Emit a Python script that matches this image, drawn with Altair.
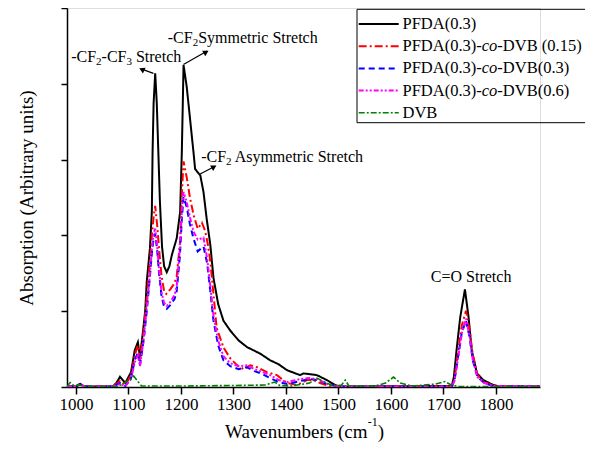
import altair as alt
import pandas as pd

# ---------------- data (wavenumber cm-1, absorption in arbitrary units) ----------------
wn_pfda = [983, 1000, 1008, 1016, 1070, 1077, 1084, 1094, 1105, 1112, 1118, 1122, 1128.6, 1132, 1135, 1141,
           1144.6, 1146, 1148, 1151, 1154, 1157, 1160, 1164, 1168, 1173, 1178, 1183, 1192, 1198.5, 1201.7,
           1203.6, 1205, 1211, 1217.5, 1224, 1227, 1237, 1243, 1249, 1256, 1262, 1271, 1281, 1294, 1310,
           1326, 1351, 1370, 1386, 1402, 1427, 1433, 1445, 1459, 1478, 1494, 1503, 1716, 1720, 1725, 1732,
           1741, 1748, 1754, 1764, 1776, 1795, 1808, 1884]
ab_pfda = [0.5, 0.5, 3, 0.5, 0.5, 4, 10.3, 4, 15, 37, 45.3, 30.3, 60.3, 77, 107, 140.3,
           177, 237, 287, 317, 287, 237, 187, 142, 122, 116, 122, 134, 150.3, 177, 237,
           287, 325.3, 303.7, 270.3, 237, 220.3, 213.7, 197, 170.3, 143.7, 110.3, 83.7, 67, 57, 47,
           40.3, 33.7, 27, 23, 17, 12, 13.7, 13, 12, 7, 2, 0.5, 1, 10.3, 37, 70.3,
           98.7, 70.3, 37, 13.7, 7, 2, 0.5, 0.5]

wn_dvb015 = [983, 1000, 1008, 1016, 1070, 1084, 1094, 1105, 1112, 1118, 1122, 1129, 1135, 1141, 1144.6, 1148,
             1151, 1155, 1158, 1163, 1168, 1172, 1180, 1188, 1192, 1198.5, 1202, 1205, 1211, 1217, 1224,
             1232, 1240, 1246, 1251, 1256, 1262, 1268, 1281, 1294, 1307, 1320, 1332, 1345, 1364, 1383,
             1402, 1421, 1440, 1452, 1465, 1484, 1716, 1721, 1727, 1735, 1743, 1750, 1756, 1765, 1778,
             1795, 1808, 1884]
ab_dvb015 = [0.5, 1, 3, 0.5, 0.5, 6, 2, 12, 32, 42, 27, 57, 90.3, 127, 152, 172,
             183, 162, 142, 112, 97, 94, 99, 105, 112, 147, 197, 228, 212, 192, 174,
             160, 166, 158, 145, 127, 94, 60, 40, 29, 22, 18, 22, 20, 15, 12,
             4, 2, 7, 7, 4, 0.5, 0.5, 7, 32, 62, 77, 57, 32, 12, 5,
             1.5, 0.5, 0.5]

wn_dvb03 = [983, 1000, 1008, 1016, 1070, 1084, 1094, 1105, 1112, 1118, 1122, 1129, 1135, 1141, 1145, 1148,
            1151, 1155, 1158, 1163, 1168, 1173, 1180, 1188, 1192, 1198, 1202, 1205, 1211, 1217, 1224,
            1232, 1238, 1243, 1250, 1256, 1262, 1271, 1281, 1294, 1310, 1325, 1340, 1351, 1370, 1386,
            1402, 1427, 1445, 1460, 1478, 1500, 1716, 1721, 1727, 1735, 1743, 1750, 1756, 1765, 1778,
            1795, 1884]
ab_dvb03 = [0.5, 0.5, 3, 0.5, 0.5, 4, 1, 9, 27, 35, 22, 47, 77, 112, 137, 150,
            155, 137, 117, 92, 81, 79, 83, 89, 97, 132, 172, 192, 182, 165, 150,
            137, 140, 142, 125, 97, 67, 42, 27, 21, 18, 20, 16, 14, 9, 5,
            3, 6, 8, 7, 3, 0.5, 0.5, 6, 27, 55, 67, 50, 27, 10, 4,
            1, 0.5]

wn_dvb06 = [983, 1000, 1008, 1016, 1070, 1084, 1094, 1105, 1112, 1118, 1122, 1129, 1135, 1141, 1145, 1148,
            1151, 1155, 1158, 1163, 1168, 1173, 1180, 1188, 1192, 1198, 1202, 1205, 1211, 1217, 1224,
            1232, 1238, 1243, 1250, 1256, 1262, 1271, 1281, 1294, 1310, 1325, 1340, 1351, 1370, 1386,
            1402, 1427, 1445, 1460, 1478, 1500, 1716, 1721, 1727, 1735, 1743, 1750, 1756, 1765, 1778,
            1795, 1884]
ab_dvb06 = [0.5, 0.5, 2.5, 0.5, 0.5, 3, 1, 8, 25, 32, 21, 48, 80, 115, 141, 155,
            160, 141, 121, 96, 85, 82, 86, 93, 102, 140, 180, 197, 187, 172, 157,
            149, 150, 151, 130, 102, 72, 47, 31, 24, 21, 22, 18, 16, 12, 7,
            5, 8, 9, 8, 3, 0.5, 0.5, 6, 26, 54, 69, 51, 27, 10, 4,
            1, 0.5]

wn_dvb = [983, 989, 996, 1008, 1020, 1080, 1095, 1105, 1110, 1116, 1125, 1200, 1300, 1360, 1379, 1388,
          1410, 1445, 1459, 1470, 1490, 1506, 1513, 1520, 1570, 1590, 1605, 1618, 1640, 1685, 1703,
          1715, 1730, 1884]
ab_dvb = [0.5, 4.5, 1.5, 2, 0.5, 0.5, 5, 8, 11, 7, 1, 1, 1.5, 2, 5, 1.5,
          1, 4, 9, 6, 1, 2, 7, 1, 1, 4, 10, 4, 1, 3, 5.5,
          2, 0.5, 0.5]

x_ticks = [1000, 1100, 1200, 1300, 1400, 1500, 1600, 1700, 1800]
y_ticks = [0, 76.6, 153.2, 229.8, 306.4, 383]

series = [
    ("PFDA(0.3)", wn_pfda, ab_pfda, "#000000", [1, 0], 2.0),
    ("PFDA(0.3)-co-DVB (0.15)", wn_dvb015, ab_dvb015, "#ff0000", [8, 3, 2, 3], 2.0),
    ("PFDA(0.3)-co-DVB(0.3)", wn_dvb03, ab_dvb03, "#0000ff", [6, 4], 2.0),
    ("PFDA(0.3)-co-DVB(0.6)", wn_dvb06, ab_dvb06, "#ff00ff", [5, 2, 2, 2, 2, 2], 2.0),
    ("DVB", wn_dvb, ab_dvb, "#008000", [6, 2, 2, 2], 1.6),
]
legend_parts = [
    ["PFDA(0.3)"],
    ["PFDA(0.3)-", "co", "-DVB (0.15)"],
    ["PFDA(0.3)-", "co", "-DVB(0.3)"],
    ["PFDA(0.3)-", "co", "-DVB(0.6)"],
    ["DVB"],
]

# annotations: anchor (wavenumber, absorption) and text pieces (text, dx, dy, size)
annotations = [
    (990.9, 333.7, [("-CF", 0, 0, 16), ("2", 24.9, 5, 11), ("-CF", 30.4, 0, 16), ("3", 55.3, 5, 11), ("Stretch", 64.8, 0, 16)]),
    (1175.0, 352.7, [("-CF", 0, 0, 16), ("2", 24.9, 5, 11), ("Symmetric Stretch", 30.4, 0, 16)]),
    (1238.5, 232.7, [("-CF", 0, 0, 16), ("2", 24.9, 5, 11), ("Asymmetric Stretch", 33.5, 0, 16)]),
]
arrows = [  # (x_from, y_from, x_tip, y_tip, head_x, head_y, angle)
    (1147.6, 317, 1124, 321.5, 1127, 320.5, 295),
    (1204.8, 326, 1250, 339.5, 1246.5, 338, 61),
    (1236.6, 215.3, 1265, 223, 1261.5, 222, 61),
]

FONT = "Liberation Serif"
W, H = 473, 379
xscale = alt.Scale(domain=[983, 1884], nice=False, zero=False)
yscale = alt.Scale(domain=[0, 383], nice=False, zero=False)
xaxis = alt.Axis(values=x_ticks, format="d", title=None, tickSize=7, labelFontSize=17, labelFont=FONT,
                 labelColor="black", labelPadding=2, grid=False, domainColor="black",
                 tickColor="black", domainWidth=1.5, tickWidth=1.5, labelFlush=False)
yaxis = alt.Axis(values=y_ticks, title="Absorption (Arbitrary units)", labels=False, tickSize=6,
                 titleFont=FONT, titleFontSize=19, titleFontWeight="normal", titleColor="black",
                 titlePadding=24, grid=False, domainColor="black", tickColor="black",
                 domainWidth=1.5, tickWidth=1.5)

X = lambda f: alt.X(f, type="quantitative", scale=xscale, axis=xaxis)
Y = lambda f: alt.Y(f, type="quantitative", scale=yscale, axis=yaxis)

layers = []
for name, wn, ab, col, dash, sw in series:
    df = pd.DataFrame({"wn": wn, "ab": ab, "series": name})
    layers.append(alt.Chart(df).mark_line(color=col, strokeDash=dash, strokeWidth=sw, clip=True)
                  .encode(x=X("wn"), y=Y("ab")))

# arrows
for x0, y0, x1, y1, hx, hy, ang in arrows:
    d = pd.DataFrame({"wn": [x0], "ab": [y0], "wn2": [x1], "ab2": [y1]})
    layers.append(alt.Chart(d).mark_rule(color="black", strokeWidth=1.2)
                  .encode(x=X("wn"), y=Y("ab"), x2="wn2", y2="ab2"))
    h = pd.DataFrame({"wn": [hx], "ab": [hy]})
    layers.append(alt.Chart(h).mark_point(shape="triangle", filled=True, color="black", size=40,
                                          angle=ang, opacity=1)
                  .encode(x=X("wn"), y=Y("ab")))

# annotation texts
for ax_, ay_, pieces in annotations:
    for txt, dx, dy, sz in pieces:
        d = pd.DataFrame({"wn": [ax_], "ab": [ay_], "t": [txt]})
        layers.append(alt.Chart(d).mark_text(align="left", baseline="middle", dx=dx, dy=dy,
                                             font=FONT, fontSize=sz, color="black")
                      .encode(x=X("wn"), y=Y("ab"), text="t:N"))
d = pd.DataFrame({"wn": [1752.8], "ab": [111], "t": ["C=O Stretch"]})
layers.append(alt.Chart(d).mark_text(align="center", baseline="middle", font=FONT, fontSize=16,
                                     color="black").encode(x=X("wn"), y=Y("ab"), text="t:N"))

# legend (manual)
one = pd.DataFrame({"k": [0]})
lx0, ltop, lbot = 290, 1.3, 114.7
layers.append(alt.Chart(one).mark_rule(color="black", strokeWidth=1)
              .encode(x=alt.value(lx0), x2=alt.value(530), y=alt.value(ltop)))
layers.append(alt.Chart(one).mark_rule(color="black", strokeWidth=1)
              .encode(x=alt.value(lx0), x2=alt.value(530), y=alt.value(lbot)))
layers.append(alt.Chart(one).mark_rule(color="black", strokeWidth=1)
              .encode(x=alt.value(lx0), y=alt.value(ltop), y2=alt.value(lbot)))
for i, ((name, wn, ab, col, dash, sw), parts) in enumerate(zip(series, legend_parts)):
    yy = 16 + 22.2 * i
    layers.append(alt.Chart(one).mark_rule(color=col, strokeDash=dash, strokeWidth=sw)
                  .encode(x=alt.value(lx0 + 1.7), x2=alt.value(lx0 + 41.7), y=alt.value(yy)))
    offs = [0, 79.3, 94.8]
    for j, p in enumerate(parts):
        d = pd.DataFrame({"t": [p]})
        layers.append(alt.Chart(d).mark_text(align="left", baseline="middle", font=FONT, fontSize=16.5,
                                             color="black", fontStyle="italic" if p == "co" else "normal")
                      .encode(x=alt.value(lx0 + 45.5 + offs[j]), y=alt.value(yy), text="t:N"))

# x-axis title with superscript
xt_y = 430
for txt, xx, dy, sz, al in [("Wavenumbers (cm", 300.5, 0, 19, "right"), ("-1", 300.8, -12, 12, "left"),
                            (")", 310.8, 0, 19, "left")]:
    d = pd.DataFrame({"t": [txt]})
    layers.append(alt.Chart(d).mark_text(align=al, baseline="alphabetic", font=FONT, fontSize=sz, dy=dy,
                                         color="black")
                  .encode(x=alt.value(xx), y=alt.value(xt_y), text="t:N"))

chart = alt.layer(*layers).properties(
    width=W, height=H,
    autosize=alt.AutoSizeParams(type="none"),
    padding={"left": 59, "top": 0, "right": 45, "bottom": 57},
).configure_view(stroke=None).configure(background="white")

chart.save("out.html", embed_options={"renderer": "svg", "actions": False})
